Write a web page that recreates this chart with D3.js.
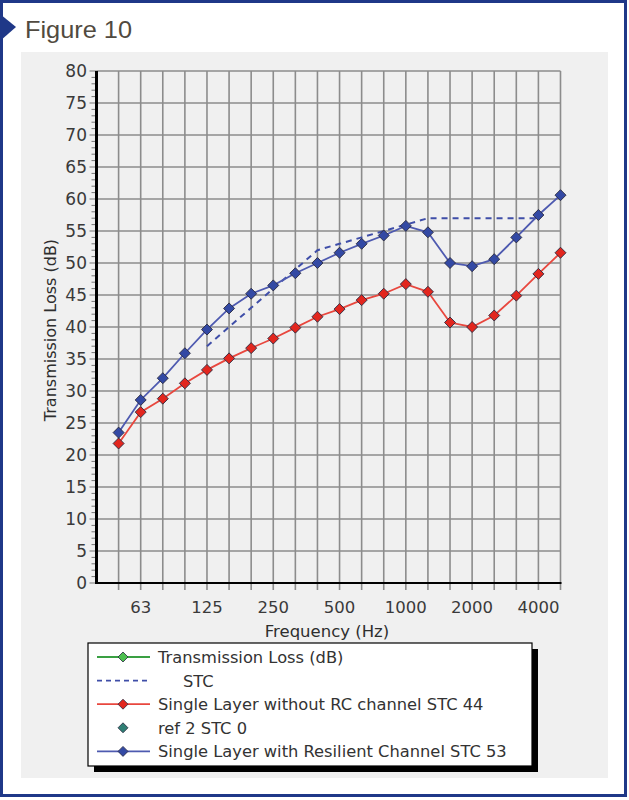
<!DOCTYPE html>
<html><head><meta charset="utf-8">
<script src="https://cdn.jsdelivr.net/npm/d3@7"></script>
<style>
html,body{margin:0;padding:0;background:#fff;}
svg{display:block;}
text{font-family:"DejaVu Sans",Verdana,sans-serif;}
</style></head>
<body>
<svg id="chart" width="629" height="800"></svg>
<script>
// ---- data ----
const bands = ["40","50","63","80","100","125","160","200","250","315","400","500","630","800","1000","1250","1600","2000","2500","3150","4000","5000"];
const tickLabels = ["63","125","250","500","1000","2000","4000"];
const yTicks = [0,5,10,15,20,25,30,35,40,45,50,55,60,65,70,75,80];
const freqs = ["50","63","80","100","125","160","200","250","315","400","500","630","800","1000","1250","1600","2000","2500","3150","4000","5000"];
const withoutRC = [21.8,26.7,28.8,31.2,33.3,35.1,36.7,38.2,39.9,41.6,42.8,44.2,45.2,46.7,45.5,40.7,40.0,41.8,44.9,48.3,51.6];
const withRC = [23.5,28.6,32.0,35.9,39.6,42.9,45.2,46.5,48.4,50.0,51.6,53.0,54.3,55.8,54.8,50.0,49.5,50.6,54.0,57.5,60.6];
const stcFreqs = ["125","160","200","250","315","400","500","630","800","1000","1250","1600","2000","2500","3150","4000"];
const stcValues = [37,40,43,46,49,52,53,54,55,56,57,57,57,57,57,57];
const legendLabels = ["Transmission Loss (dB)","STC","Single Layer without RC channel STC 44","ref 2 STC 0","Single Layer with Resilient Channel STC 53"];

const svg = d3.select("#chart");

// frame
svg.append("rect").attr("x",1.5).attr("y",1.5).attr("width",624).attr("height",794)
  .attr("fill","#fff").attr("stroke","#1f3888").attr("stroke-width",3);
svg.append("path").attr("d","M0,14 L16,27 L0,41 Z").attr("fill","#1f3888");
svg.append("text").attr("x",25).attr("y",38).attr("font-size",24).attr("fill","#514a40")
  .style("font-family","'Liberation Sans',Arial,sans-serif")
  .attr("textLength",107).attr("lengthAdjust","spacingAndGlyphs").text("Figure 10");

// panel
svg.append("rect").attr("x",21).attr("y",52).attr("width",587).attr("height",726).attr("fill","#f0f0f0");

const x = d3.scalePoint().domain(bands).range([96.5,560.5]);
const y = d3.scaleLinear().domain([0,80]).range([583,71]);

const g = svg.append("g");
// grid
g.selectAll(".vg").data(bands.slice(1)).enter().append("line")
  .attr("x1",d=>x(d)).attr("x2",d=>x(d)).attr("y1",y(80)).attr("y2",y(0)+7)
  .attr("stroke","#8c8c8c").attr("stroke-width",1.6);
g.selectAll(".hg").data(yTicks.filter(v=>v>0)).enter().append("line")
  .attr("x1",x("40")).attr("x2",x("5000")).attr("y1",d=>y(d)).attr("y2",d=>y(d))
  .attr("stroke","#8c8c8c").attr("stroke-width",1.6);

// y minor ticks
g.selectAll(".ym").data(d3.range(0,81)).enter().append("line")
  .attr("x1",d=>d%5===0?x("40")-7:x("40")-5).attr("x2",x("40"))
  .attr("y1",d=>y(d)).attr("y2",d=>y(d)).attr("stroke","#777").attr("stroke-width",1);

// axes lines
g.append("line").attr("x1",x("40")).attr("x2",x("40")).attr("y1",y(80)).attr("y2",y(0)+1)
  .attr("stroke","#000").attr("stroke-width",3);
g.append("line").attr("x1",x("40")).attr("x2",x("5000")+1).attr("y1",y(0)).attr("y2",y(0))
  .attr("stroke","#000").attr("stroke-width",2);

// y labels
g.selectAll(".yl").data(yTicks).enter().append("text")
  .attr("x",87).attr("y",d=>y(d)+6).attr("text-anchor","end").attr("font-size",17)
  .attr("fill","#3a3a3a").text(d=>d);
// x labels
g.selectAll(".xl").data(tickLabels).enter().append("text")
  .attr("x",d=>x(d)).attr("y",613).attr("text-anchor","middle").attr("font-size",16.5)
  .attr("fill","#3a3a3a").text(d=>d);
// axis titles
svg.append("text").attr("x",327).attr("y",637).attr("text-anchor","middle").attr("font-size",16.5)
  .attr("fill","#2e2e2e").text("Frequency (Hz)");
svg.append("text").attr("transform","translate(56,330) rotate(-90)").attr("text-anchor","middle")
  .attr("font-size",16).attr("fill","#2e2e2e").text("Transmission Loss (dB)");

function diamondPath(cx,cy,r){return `M${cx},${cy-r} L${cx+r},${cy} L${cx},${cy+r} L${cx-r},${cy} Z`;}

// STC dashed
const stcLine = d3.line().x((d,i)=>x(stcFreqs[i])).y(d=>y(d));
g.append("path").attr("d",stcLine(stcValues)).attr("fill","none")
  .attr("stroke","#3f4ea8").attr("stroke-width",2).attr("stroke-dasharray","6,5");

function series(vals,lineColor,fill){
  const ln = d3.line().x((d,i)=>x(freqs[i])).y(d=>y(d));
  g.append("path").attr("d",ln(vals)).attr("fill","none").attr("stroke",lineColor).attr("stroke-width",1.8);
  g.selectAll(null).data(vals).enter().append("path")
    .attr("d",(d,i)=>diamondPath(x(freqs[i]),y(d),5.5))
    .attr("fill",fill).attr("stroke","#2a2a40").attr("stroke-width",0.9);
}
series(withoutRC,"#e8473e","#e2261e");
series(withRC,"#4e5ab0","#3349a4");

// legend
const lx=88, ly=643, lw=444, lh=123;
svg.append("rect").attr("x",lx+6).attr("y",ly+6).attr("width",lw).attr("height",lh).attr("fill","#000");
svg.append("rect").attr("x",lx).attr("y",ly).attr("width",lw).attr("height",lh).attr("fill","#fff")
  .attr("stroke","#000").attr("stroke-width",1.2);
const legStyles = [
  {line:"#3aa043",dash:null,marker:"#4cc04f"},
  {line:"#3f4ea8",dash:"5,4",marker:null},
  {line:"#e8473e",dash:null,marker:"#e2261e"},
  {line:null,dash:null,marker:"#2f7f74"},
  {line:"#4e5ab0",dash:null,marker:"#3349a4"}
];
legendLabels.forEach((lab,i)=>{
  const cy = 657 + i*23.6;
  const s = legStyles[i];
  if(s.line){
    svg.append("line").attr("x1",97).attr("x2",150).attr("y1",cy).attr("y2",cy)
      .attr("stroke",s.line).attr("stroke-width",1.8).attr("stroke-dasharray",s.dash);
  }
  if(s.marker){
    svg.append("path").attr("d",diamondPath(123,cy,5)).attr("fill",s.marker)
      .attr("stroke","#2a2a40").attr("stroke-width",0.8);
  }
  svg.append("text").attr("x",i===1?183:158).attr("y",cy+6).attr("font-size",16.3)
    .attr("fill","#333").text(lab);
});
</script>
</body></html>
